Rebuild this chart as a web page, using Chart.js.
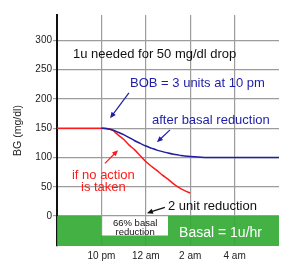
<!DOCTYPE html>
<html>
<head>
<meta charset="utf-8">
<script src="https://cdn.jsdelivr.net/npm/chart.js@4/dist/chart.umd.min.js"></script>
<style>
html,body{margin:0;padding:0;background:#fff;}
#wrap{width:292px;height:275px;position:relative;}
</style>
</head>
<body>
<div id="wrap"><canvas id="c" width="292" height="275"></canvas></div>
<script>
// x values are hours after 8 pm
const xTickHours = [2, 4, 6, 8];
const xTickLabels = ['10 pm', '12 am', '2 am', '4 am'];
const yTicks = [0, 50, 100, 150, 200, 250, 300];

const noActionHours = [0, 2, 2.25, 2.5, 2.75, 3, 3.25, 3.5, 3.75, 4, 4.25, 4.5, 4.75, 5, 5.25, 5.5, 5.75, 6];
const noActionBG    = [150, 150, 149.5, 146.5, 138.5, 131, 121, 113, 103, 93, 85, 78, 70, 63, 55, 48.5, 43.5, 39.5];

const basalCutHours = [2, 2.25, 2.5, 2.75, 3, 3.25, 3.5, 3.75, 4, 4.25, 4.5, 4.75, 5, 5.25, 5.5, 5.75, 6, 6.5, 7, 10];
const basalCutBG    = [150, 149, 147, 143, 139, 134, 128.5, 124, 119.5, 116, 112.5, 110, 107.5, 105.5, 104, 102.5, 101.5, 100.5, 100, 100];

const basalHours = [0, 2, 2, 5, 5, 10];
const basalRate  = [1, 1, 0.34, 0.34, 1, 1]; // u/hr, drawn in the band below 0

const FONT = "'Liberation Sans', Arial, sans-serif";

// annotations (data coordinates)
const notes = [
  {text: '1u needed for 50 mg/dl drop', x: 0.72, y: 276, color: '#111', size: 13, align: 'left'},
  {text: 'BOB = 3 units at 10 pm', x: 3.29, y: 227, color: '#1e1ea8', size: 13, align: 'left'},
  {text: 'after basal reduction', x: 4.28, y: 164, color: '#1e1ea8', size: 13, align: 'left'},
  {text: 'if no action', x: 2.09, y: 70, color: '#ff1a1a', size: 13, align: 'center'},
  {text: 'is taken', x: 2.09, y: 49.5, color: '#ff1a1a', size: 13, align: 'center'},
  {text: '2 unit reduction', x: 5.0, y: 17, color: '#111', size: 13, align: 'left'},
  {text: '66% basal', x: 3.52, y: -12, color: '#111', size: 9.5, align: 'center'},
  {text: 'reduction', x: 3.52, y: -27, color: '#111', size: 9.5, align: 'center'},
  {text: 'Basal = 1u/hr', x: 5.5, y: -29, color: '#ffffff', size: 14, align: 'left'}
];
const arrows = [
  {x1: 3.24, y1: 210, x2: 2.39, y2: 167, color: '#1e1ea8'},
  {x1: 5.09, y1: 147, x2: 4.5, y2: 126, color: '#1e1ea8'},
  {x1: 2.16, y1: 90, x2: 2.75, y2: 112.5, color: '#ff1a1a'},
  {x1: 4.86, y1: 15, x2: 4.05, y2: 5, color: '#111'}
];

const annotPlugin = {
  id: 'annot',
  afterDatasetsDraw(chart) {
    const ctx = chart.ctx, xs = chart.scales.x, ys = chart.scales.y;
    ctx.save();
    arrows.forEach(a => {
      const x1 = xs.getPixelForValue(a.x1), y1 = ys.getPixelForValue(a.y1);
      const x2 = xs.getPixelForValue(a.x2), y2 = ys.getPixelForValue(a.y2);
      const ang = Math.atan2(y2 - y1, x2 - x1);
      const hl = 6, hw = 2.6;
      ctx.strokeStyle = a.color; ctx.fillStyle = a.color; ctx.lineWidth = 1.2;
      ctx.beginPath();
      ctx.moveTo(x1, y1);
      ctx.lineTo(x2 - Math.cos(ang) * hl * 0.8, y2 - Math.sin(ang) * hl * 0.8);
      ctx.stroke();
      ctx.beginPath();
      ctx.moveTo(x2, y2);
      ctx.lineTo(x2 - Math.cos(ang) * hl - Math.sin(ang) * hw, y2 - Math.sin(ang) * hl + Math.cos(ang) * hw);
      ctx.lineTo(x2 - Math.cos(ang) * hl + Math.sin(ang) * hw, y2 - Math.sin(ang) * hl - Math.cos(ang) * hw);
      ctx.closePath();
      ctx.fill();
    });
    notes.forEach(n => {
      ctx.font = n.size + 'px ' + FONT;
      ctx.fillStyle = n.color;
      ctx.textAlign = n.align;
      ctx.textBaseline = 'middle';
      ctx.fillText(n.text, xs.getPixelForValue(n.x), ys.getPixelForValue(n.y));
    });
    ctx.restore();
  }
};

const toPts = (xs, ys) => xs.map((x, i) => ({x: x, y: ys[i]}));

new Chart(document.getElementById('c'), {
  type: 'line',
  data: {
    datasets: [
      {
        label: 'Basal',
        data: basalHours.map((x, i) => ({x: x, y: -50 + 50 * basalRate[i]})),
        borderWidth: 0,
        borderColor: 'rgba(0,0,0,0)',
        backgroundColor: 'rgba(52,170,52,0.92)',
        fill: 'start',
        pointRadius: 0,
        tension: 0
      },
      {
        label: 'after basal reduction',
        data: toPts(basalCutHours, basalCutBG),
        borderColor: '#1e1e9e',
        borderWidth: 1.5,
        pointRadius: 0,
        cubicInterpolationMode: 'monotone',
        fill: false
      },
      {
        label: 'if no action is taken',
        data: toPts(noActionHours, noActionBG),
        borderColor: '#ff1a1a',
        borderWidth: 1.5,
        pointRadius: 0,
        cubicInterpolationMode: 'monotone',
        fill: false
      }
    ]
  },
  options: {
    responsive: false,
    animation: false,
    events: [],
    layout: {padding: {top: 15, right: 13, left: 0, bottom: 0}},
    plugins: {legend: {display: false}, tooltip: {enabled: false}},
    scales: {
      x: {
        type: 'linear',
        min: 0, max: 10,
        afterBuildTicks: s => { s.ticks = xTickHours.map(v => ({value: v})); },
        afterFit: s => { s.height = 29; },
        ticks: {
          callback: v => xTickLabels[xTickHours.indexOf(v)],
          font: {family: FONT, size: 10},
          color: '#222',
          padding: 4,
          maxRotation: 0
        },
        grid: {color: '#9c9c9c', lineWidth: 1.2, drawTicks: false},
        border: {display: false}
      },
      y: {
        type: 'linear',
        min: -51, max: 343,
        afterBuildTicks: s => { s.ticks = yTicks.map(v => ({value: v})); },
        afterFit: s => { s.width = 57; },
        ticks: {
          font: {family: FONT, size: 10},
          color: '#222',
          padding: 1
        },
        grid: {color: '#9c9c9c', lineWidth: 1.2, tickLength: 4},
        border: {display: true, color: '#111', width: 2},
        title: {
          display: true,
          text: 'BG (mg/dl)',
          font: {family: FONT, size: 10.5},
          color: '#222',
          padding: {top: 12, bottom: 0}
        }
      }
    }
  },
  plugins: [annotPlugin]
});
</script>
</body>
</html>
